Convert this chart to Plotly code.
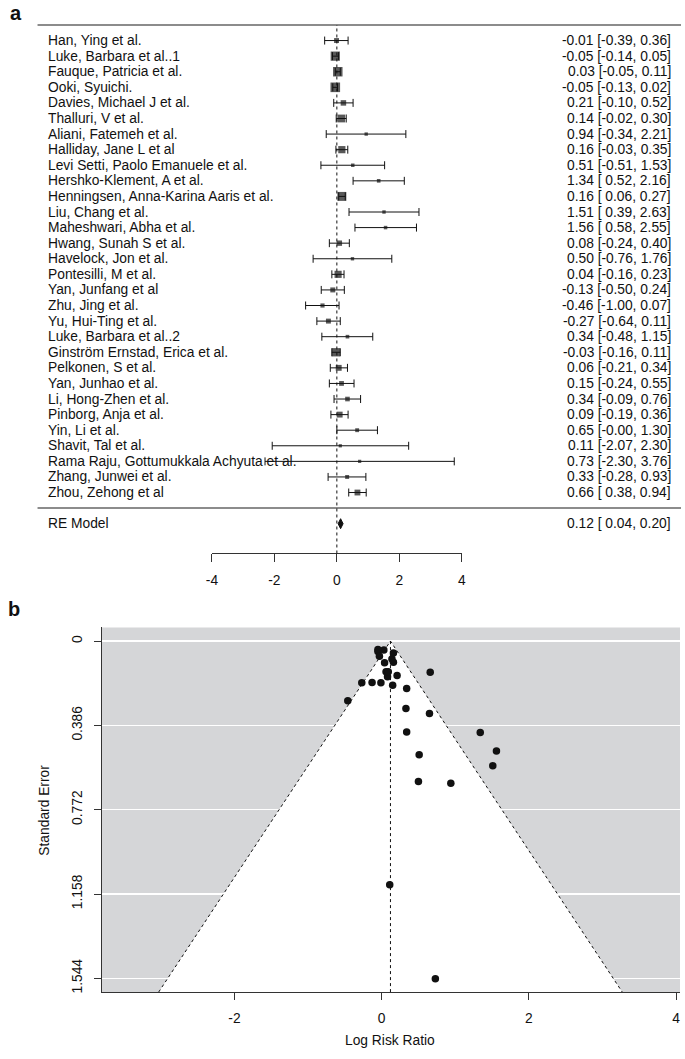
import plotly.graph_objects as go

# ---------------- data ----------------
studies = [
    "Han, Ying et al.", "Luke, Barbara et al..1", "Fauque, Patricia et al.", "Ooki, Syuichi.",
    "Davies, Michael J et al.", "Thalluri, V et al.", "Aliani, Fatemeh et al.", "Halliday, Jane L et al",
    "Levi Setti, Paolo Emanuele et al.", "Hershko-Klement, A et al.", "Henningsen, Anna-Karina Aaris et al.",
    "Liu, Chang et al.", "Maheshwari, Abha et al.", "Hwang, Sunah S et al.", "Havelock, Jon et al.",
    "Pontesilli, M et al.", "Yan, Junfang et al", "Zhu, Jing et al.", "Yu, Hui-Ting et al.",
    "Luke, Barbara et al..2", "Ginström Ernstad, Erica et al.", "Pelkonen, S et al.", "Yan, Junhao et al.",
    "Li, Hong-Zhen et al.", "Pinborg, Anja et al.", "Yin, Li et al.", "Shavit, Tal et al.",
    "Rama Raju, Gottumukkala Achyuta et al.", "Zhang, Junwei et al.", "Zhou, Zehong et al",
]
yi = [-0.01, -0.05, 0.03, -0.05, 0.21, 0.14, 0.94, 0.16, 0.51, 1.34, 0.16, 1.51, 1.56, 0.08, 0.50,
      0.04, -0.13, -0.46, -0.27, 0.34, -0.03, 0.06, 0.15, 0.34, 0.09, 0.65, 0.11, 0.73, 0.33, 0.66]
ci_lb = [-0.39, -0.14, -0.05, -0.13, -0.10, -0.02, -0.34, -0.03, -0.51, 0.52, 0.06, 0.39, 0.58, -0.24, -0.76,
         -0.16, -0.50, -1.00, -0.64, -0.48, -0.16, -0.21, -0.24, -0.09, -0.19, -0.00, -2.07, -2.30, -0.28, 0.38]
ci_ub = [0.36, 0.05, 0.11, 0.02, 0.52, 0.30, 2.21, 0.35, 1.53, 2.16, 0.27, 2.63, 2.55, 0.40, 1.76,
         0.23, 0.24, 0.07, 0.11, 1.15, 0.11, 0.34, 0.55, 0.76, 0.36, 1.30, 2.30, 3.76, 0.93, 0.94]
sei = [0.191, 0.048, 0.041, 0.038, 0.158, 0.082, 0.651, 0.097, 0.520, 0.418, 0.054, 0.571, 0.503, 0.163, 0.643,
       0.099, 0.189, 0.273, 0.191, 0.416, 0.069, 0.140, 0.202, 0.217, 0.140, 0.332, 1.115, 1.546, 0.309, 0.143]
re_est, re_lb, re_ub = 0.12, 0.04, 0.20
tau2 = 0.012

forest_ticks = [-4, -2, 0, 2, 4]
funnel_xticks = [-2, 0, 2, 4]
funnel_yticks = [0, 0.386, 0.772, 1.158, 1.544]
funnel_yticklabels = ["0", "0.386", "0.772", "1.158", "1.544"]

# ---------------- layout helpers ----------------
W, H = 685, 1059
FONT = "Liberation Sans, Arial, Helvetica, sans-serif"
FS = 13.8
INK = "#111111"
AX = "#333333"
GRAY = "#d5d6d8"


def px(p):
    return p / W


def py(p):
    return 1 - p / H


ROW0, ROWH = 508.6, 15.6          # pixel y of row 0, pixels per row
k = len(studies)
rows = [k - i for i in range(k)]
fy_range = [(ROW0 - 600) / ROWH, (ROW0 - 0) / ROWH]
axis_px = 554
axis_row = (ROW0 - axis_px) / ROWH

# square sizes from random-effects weights (metafor style, psize in [0.5, 1.5])
w = [1 / (s * s + tau2) for s in sei]
wmin, wmax = min(w), max(w)
psize = [(x - wmin) / (wmax - wmin) * 1.0 + 0.5 for x in w]
sizes = [p * 6.4 for p in psize]

fig = go.Figure()

# ---------------- forest plot ----------------
fig.add_trace(go.Scatter(
    x=yi, y=rows, mode="markers", xaxis="x", yaxis="y",
    marker=dict(symbol="square", size=sizes, color=INK, line=dict(width=0)),
    error_x=dict(type="data", symmetric=False,
                 array=[u - y for u, y in zip(ci_ub, yi)],
                 arrayminus=[y - l for y, l in zip(yi, ci_lb)],
                 color=INK, thickness=1, width=4),
    hoverinfo="skip", showlegend=False, cliponaxis=False))

dh = 5 / ROWH
fig.add_trace(go.Scatter(
    x=[re_lb, re_est, re_ub, re_est, re_lb], y=[-1, -1 + dh, -1, -1 - dh, -1],
    mode="lines", fill="toself", fillcolor=INK, line=dict(color=INK, width=1),
    xaxis="x", yaxis="y", hoverinfo="skip", showlegend=False))

# ---------------- funnel plot ----------------
fx_range = [-3.805, 4.054]
fy2_range = [1.6069, -0.0627]
se_bot = fy2_range[0]
tri_x = [re_est - 1.96 * se_bot, re_est, re_est + 1.96 * se_bot]
tri_y = [se_bot, 0, se_bot]

fig.add_trace(go.Scatter(
    x=tri_x + [tri_x[0]], y=tri_y + [tri_y[0]], mode="lines", fill="toself",
    fillcolor="white", line=dict(width=0, color="white"),
    xaxis="x2", yaxis="y2", hoverinfo="skip", showlegend=False))
fig.add_trace(go.Scatter(
    x=tri_x, y=tri_y, mode="lines", line=dict(color=INK, width=1, dash="dot"),
    xaxis="x2", yaxis="y2", hoverinfo="skip", showlegend=False))
fig.add_trace(go.Scatter(
    x=[re_est, re_est], y=[0, se_bot], mode="lines", line=dict(color=INK, width=1, dash="dot"),
    xaxis="x2", yaxis="y2", hoverinfo="skip", showlegend=False))
fig.add_trace(go.Scatter(
    x=yi, y=sei, mode="markers", marker=dict(size=7.5, color=INK, line=dict(width=0)),
    xaxis="x2", yaxis="y2", hoverinfo="skip", showlegend=False, cliponaxis=False))

# ---------------- shapes ----------------
shapes = [
    dict(type="rect", xref="x2 domain", yref="y2 domain", x0=0, x1=1, y0=0, y1=1,
         fillcolor=GRAY, line=dict(width=0), layer="below"),
    dict(type="line", xref="paper", yref="y", x0=px(32), x1=1, y0=k + 1, y1=k + 1,
         line=dict(color="#666666", width=1.5)),
    dict(type="line", xref="paper", yref="y", x0=px(32), x1=1, y0=0, y1=0,
         line=dict(color="#666666", width=1.5)),
    dict(type="line", xref="x", yref="y", x0=0, x1=0, y0=axis_row, y1=k + 1,
         line=dict(color=INK, width=1, dash="dot")),
]

# ---------------- annotations ----------------
ann = []
for name, r in zip(studies, rows):
    ann.append(dict(text=name, xref="paper", yref="y", x=px(40.5), y=r, xanchor="left",
                    yanchor="middle", showarrow=False, font=dict(family=FONT, size=FS, color=INK)))
for y, l, u, r in zip(yi, ci_lb, ci_ub, rows):
    ann.append(dict(text=f"{y:.2f} [{l:5.2f}, {u:.2f}]", xref="paper", yref="y", x=px(676.5), y=r,
                    xanchor="right", yanchor="middle", showarrow=False,
                    font=dict(family=FONT, size=FS, color=INK)))
ann.append(dict(text="RE Model", xref="paper", yref="y", x=px(40.5), y=-1, xanchor="left",
                yanchor="middle", showarrow=False, font=dict(family=FONT, size=FS, color=INK)))
ann.append(dict(text=f"{re_est:.2f} [{re_lb:5.2f}, {re_ub:.2f}]", xref="paper", yref="y", x=px(676.5), y=-1,
                xanchor="right", yanchor="middle", showarrow=False, font=dict(family=FONT, size=FS, color=INK)))
ann.append(dict(text="<b>a</b>", xref="paper", yref="paper", x=px(2), y=py(13), xanchor="left",
                yanchor="middle", showarrow=False, font=dict(family=FONT, size=20, color=INK)))
ann.append(dict(text="<b>b</b>", xref="paper", yref="paper", x=px(0), y=py(610), xanchor="left",
                yanchor="middle", showarrow=False, font=dict(family=FONT, size=20, color=INK)))
ann.append(dict(text="Standard Error", xref="paper", yref="paper", x=px(39), y=py(811), xanchor="center",
                yanchor="middle", textangle=-90, showarrow=False, font=dict(family=FONT, size=FS, color=INK)))
ann.append(dict(text="Log Risk Ratio", xref="paper", yref="paper", x=px(390), y=py(1041), xanchor="center",
                yanchor="middle", showarrow=False, font=dict(family=FONT, size=FS, color=INK)))

fig.update_layout(
    width=W, height=H, autosize=False,
    margin=dict(l=0, r=0, t=0, b=0),
    paper_bgcolor="white", plot_bgcolor="white",
    font=dict(family=FONT, size=FS, color=INK),
    showlegend=False,
    shapes=shapes, annotations=ann,
    xaxis=dict(domain=[px(209), px(462.5)], range=[-4, 4], anchor="free", position=py(axis_px),
               showline=True, linecolor=AX, linewidth=1, ticks="outside", ticklen=8, tickcolor=AX,
               tickwidth=1, tickvals=forest_ticks, ticktext=[str(t) for t in forest_ticks],
               showgrid=False, zeroline=False, ticklabelstandoff=6,
               tickfont=dict(family=FONT, size=FS, color=INK), fixedrange=True),
    yaxis=dict(domain=[py(600), py(0)], range=fy_range, visible=False, fixedrange=True),
    xaxis2=dict(domain=[px(97), px(684)], range=fx_range, anchor="y2",
                showline=True, linecolor=AX, linewidth=1, ticks="outside", ticklen=7, tickcolor=AX,
                tickvals=funnel_xticks, ticktext=[str(t) for t in funnel_xticks],
                showgrid=False, zeroline=False, ticklabelstandoff=6,
                tickfont=dict(family=FONT, size=FS, color=INK), fixedrange=True),
    yaxis2=dict(domain=[py(993), py(628)], range=fy2_range, anchor="x2",
                showline=True, linecolor=AX, linewidth=1, ticks="outside", ticklen=7, tickcolor=AX,
                tickvals=funnel_yticks, ticktext=funnel_yticklabels, tickangle=-90,
                showgrid=True, gridcolor="white", gridwidth=1.5,
                zeroline=False, ticklabelstandoff=6,
                tickfont=dict(family=FONT, size=FS, color=INK), fixedrange=True),
)

fig.write_html("out.html",
               config={"displayModeBar": False, "staticPlot": True},
               post_script="document.body.style.margin='0px';document.body.style.padding='0px';"
                           "document.documentElement.style.overflow='hidden';")
